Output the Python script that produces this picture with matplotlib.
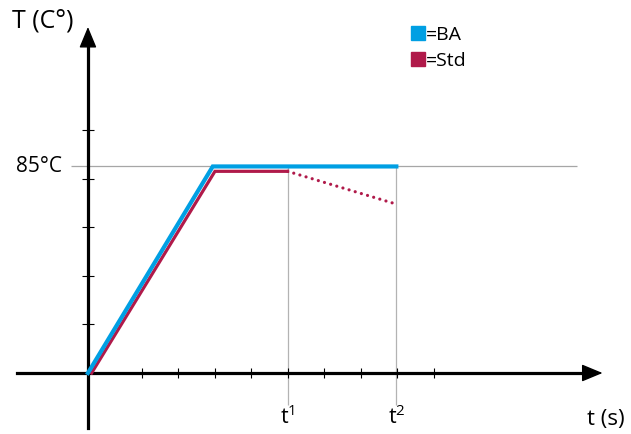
import matplotlib.pyplot as plt
from matplotlib.lines import Line2D

plt.rcParams['font.family'] = ['Open Sans', 'DejaVu Sans']
plt.rcParams['mathtext.fontset'] = 'custom'
plt.rcParams['mathtext.rm'] = 'Open Sans'

# data (x in tick units, y in °C)
ba_x = [0, 3.42, 8.45]
ba_y = [0, 85, 85]
std_x = [0.1, 3.48, 5.47]
std_y = [0, 83, 83]
std_drop_x = [5.47, 8.45]
std_drop_y = [83, 69.5]
tick_x = [1.47, 2.47, 3.47, 4.47, 5.47, 6.47, 7.47, 8.47, 9.47]
tick_y = [20, 40, 60, 80, 100]
t_marks = [5.47, 8.45]
t_labels = [r'$\mathregular{t^{1}}$', r'$\mathregular{t^{2}}$']
ref_temp = 85

blue = '#009fe3'
red = '#b01a4a'

fig = plt.figure(figsize=(6.31, 4.34), dpi=100)
ax = fig.add_axes([0, 0, 1, 1])
ax.set_xlim(-2.41, 14.88)
ax.set_ylim(-25.1, 153.5)

# axes through the origin
for side in ['top', 'right']:
    ax.spines[side].set_visible(False)
ax.spines['left'].set_position(('data', 0))
ax.spines['bottom'].set_position(('data', 0))
ax.spines['left'].set_bounds(-22.6, 136)
ax.spines['bottom'].set_bounds(-1.95, 13.7)
ax.spines['left'].set_linewidth(2.3)
ax.spines['bottom'].set_linewidth(2.3)
ax.set_xticks(tick_x)
ax.set_yticks(tick_y)
ax.set_xticklabels([])
ax.set_yticklabels([])
ax.tick_params(axis='x', direction='inout', length=7.5, width=0.8)
ax.tick_params(axis='y', direction='inout', length=9, width=0.8)

# arrow heads
ax.annotate('', xy=(0, 142.4), xytext=(0, 130),
            arrowprops=dict(arrowstyle='-|>,head_length=0.65,head_width=0.27',
                            color='black', lw=1, shrinkA=0, shrinkB=0, mutation_scale=20))
ax.annotate('', xy=(14.1, 0), xytext=(13.3, 0),
            arrowprops=dict(arrowstyle='-|>,head_length=0.65,head_width=0.27',
                            color='black', lw=1, shrinkA=0, shrinkB=0, mutation_scale=20))

# guide lines
ax.hlines(ref_temp, -0.47, 13.4, color='#a6a6a6', lw=0.9, zorder=1)
ax.vlines(t_marks, -13.2, ref_temp, color='#b3b3b3', lw=0.9, zorder=1)

# curves
ax.plot(std_x, std_y, color=red, lw=2.3, solid_joinstyle='miter', zorder=3)
ax.plot(std_drop_x, std_drop_y, color=red, lw=2.3, linestyle=(0, (0.01, 2.0)),
        dash_capstyle='round', zorder=3)
ax.plot(ba_x, ba_y, color=blue, lw=3, solid_joinstyle='miter', zorder=4)

# labels
ax.text(-0.71, ref_temp, '85°C', ha='right', va='center', fontsize=15)
ax.text(-1.23, 145, 'T (C°)', ha='center', va='center', fontsize=18)
for t, lab in zip(t_marks, t_labels):
    ax.text(t, -18, lab, ha='center', va='center', fontsize=15.5)
ax.text(14.2, -19, 't (s)', ha='center', va='center', fontsize=16)

handles = [Line2D([], [], marker='s', ls='none', color=blue, markersize=9.5),
           Line2D([], [], marker='s', ls='none', color=red, markersize=9.5)]
ax.legend(handles, ['=BA', '=Std'], loc='upper left', bbox_to_anchor=(411 / 631, 1 - 26 / 434),
          frameon=False, handletextpad=0.0, handlelength=0.75, borderpad=0, borderaxespad=0,
          labelspacing=0.4, fontsize=14, handleheight=0.7)

fig.savefig('out.png', dpi=100)
